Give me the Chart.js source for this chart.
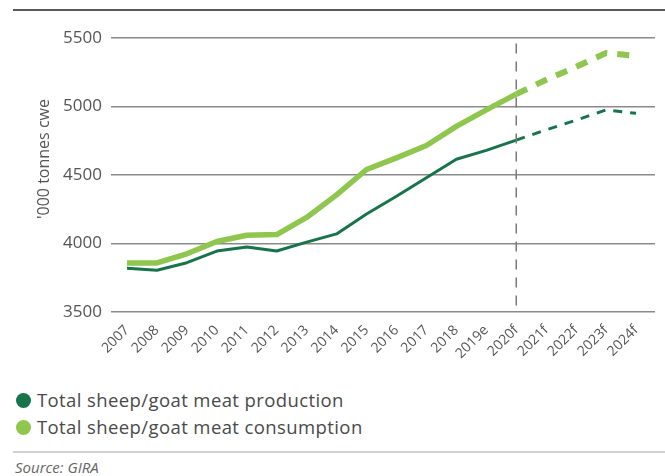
<!DOCTYPE html>
<html>
<head>
<meta charset="utf-8">
<script src="https://cdn.jsdelivr.net/npm/chart.js@4.4.1/dist/chart.umd.min.js"></script>
<style>
    body {
        margin: 0;
        background: #fff;
        font-family: "Open Sans", sans-serif;
    }
    #wrap {
        position: relative;
        width: 665px;
        height: 476px;
    }
    #topRule {
        position: absolute;
        left: 13px;
        right: 0;
        top: 9px;
        border-top: 2px solid #5a5a5a;
    }
    #chart {
        position: absolute;
        left: 0;
        top: 0;
    }
    .legend {
        position: absolute;
        left: 16px;
        font-size: 18.5px;
        letter-spacing: 0.4px;
        color: #4a4a4a;
        line-height: 22px;
    }
    .legend span {
        display: inline-block;
        width: 15px;
        height: 15px;
        border-radius: 50%;
        margin-right: 6px;
        vertical-align: -1px;
    }
    #bottomRule {
        position: absolute;
        left: 13px;
        right: 0;
        top: 451px;
        border-top: 2px solid #d0d0d0;
    }
    #source {
        position: absolute;
        left: 15px;
        top: 457px;
        font-size: 15px;
        font-style: italic;
        color: #666;
    }
</style>
</head>
<body>
<div id="wrap">
    <div id="topRule"></div>
    <canvas id="chart" width="665" height="380"></canvas>
    <div class="legend" style="top:389px"><span style="background:#17744a"></span>Total sheep/goat meat production</div>
    <div class="legend" style="top:416px"><span style="background:#8fc64e"></span>Total sheep/goat meat consumption</div>
    <div id="bottomRule"></div>
    <div id="source">Source: GIRA</div>
</div>
<script>
const years = ['2007', '2008', '2009', '2010', '2011', '2012', '2013', '2014', '2015', '2016',
    '2017', '2018', '2019e', '2020f', '2021f', '2022f', '2023f', '2024f'];

// actual values, 2007 - 2020f
const production = [3820, 3805, 3860, 3945, 3975, 3945, 4010, 4070, 4215, 4345, 4480, 4615, 4680, 4755];
const consumption = [3858, 3858, 3925, 4015, 4060, 4065, 4190, 4355, 4540, 4625, 4715, 4855, 4975, 5090];

// forecast values, 2020f - 2024f
const productionForecast = [4755, 4830, 4900, 4975, 4950];
const consumptionForecast = [5090, 5195, 5290, 5390, 5370];

const forecastStart = years.indexOf('2020f');

const yTicks = [3500, 4000, 4500, 5000, 5500];

function toPoints(values, offset) {
    return values.map((v, i) => ({ x: i + offset, y: v }));
}

const green = '#17744a';
const lightGreen = '#8fc64e';

const yTitle = {
    id: 'yTitle',
    afterDraw(chart) {
        const ctx = chart.ctx;
        ctx.save();
        ctx.translate(44, 159);
        ctx.rotate(-Math.PI / 2);
        ctx.font = '16px "Open Sans"';
        ctx.fillStyle = '#555';
        ctx.textAlign = 'center';
        ctx.textBaseline = 'middle';
        ctx.fillText("'000 tonnes cwe", 0, 0);
        ctx.restore();
    }
};

new Chart(document.getElementById('chart'), {
    type: 'line',
    data: {
        datasets: [
            {
                label: 'divider',
                data: [{ x: forecastStart, y: 5460 }, { x: forecastStart, y: 3500 }],
                borderColor: '#7a7a7a',
                borderWidth: 1.5,
                borderDash: [10, 8],
                pointRadius: 0
            },
            {
                label: 'Total sheep/goat meat consumption',
                data: toPoints(consumption, 0),
                borderColor: lightGreen,
                borderWidth: 5.5,
                borderJoinStyle: 'round',
                pointRadius: 0
            },
            {
                label: 'consumption forecast',
                data: toPoints(consumptionForecast, forecastStart),
                borderColor: lightGreen,
                borderWidth: 6,
                borderDash: [12, 10],
                pointRadius: 0
            },
            {
                label: 'Total sheep/goat meat production',
                data: toPoints(production, 0),
                borderColor: green,
                borderWidth: 3,
                borderJoinStyle: 'round',
                pointRadius: 0
            },
            {
                label: 'production forecast',
                data: toPoints(productionForecast, forecastStart),
                borderColor: green,
                borderWidth: 3,
                borderDash: [9, 8],
                pointRadius: 0
            }
        ]
    },
    plugins: [yTitle],
    options: {
        responsive: false,
        animation: false,
        layout: {
            padding: { left: 0, top: 38, right: 10, bottom: 0 }
        },
        plugins: {
            legend: { display: false },
            tooltip: { enabled: false }
        },
        scales: {
            x: {
                type: 'linear',
                min: -0.534,
                max: 17.634,
                afterFit: (scale) => { scale.height = 68; },
                afterBuildTicks: (scale) => {
                    scale.ticks = years.map((_, i) => ({ value: i }));
                },
                grid: { display: false },
                border: { display: false },
                ticks: {
                    autoSkip: false,
                    minRotation: 45,
                    maxRotation: 45,
                    padding: 2,
                    color: '#555',
                    font: { family: 'Open Sans', size: 14 },
                    callback: (value) => years[value]
                }
            },
            y: {
                min: 3500,
                max: 5500,
                afterFit: (scale) => { scale.width = 111; },
                afterBuildTicks: (scale) => {
                    scale.ticks = yTicks.map(v => ({ value: v }));
                },
                grid: {
                    color: '#8a8a8a',
                    lineWidth: 1.5,
                    drawTicks: false
                },
                border: { display: false },
                ticks: {
                    padding: 9,
                    color: '#555',
                    font: { family: 'Open Sans', size: 17 },
                    callback: (value) => String(value)
                }
            }
        }
    }
});
</script>
</body>
</html>
